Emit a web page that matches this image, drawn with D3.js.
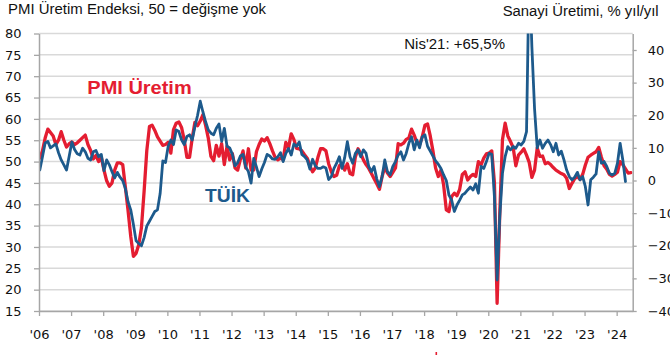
<!DOCTYPE html>
<html><head><meta charset="utf-8">
<script src="https://cdn.jsdelivr.net/npm/d3@7"></script>
<style>body{margin:0;background:#fff}svg{display:block}</style>
</head><body>
<svg id="chart" width="670" height="355"></svg>
<script>
// ---------- DATA (monthly, Jan 2006 onward) ----------
const startYear = 2006;
const pmiOutput = [
 50.8,52.5,55.5,57.6,56.8,56.0,54.0,55.0,57.0,55.0,53.4,54.2,
 54.6,54.0,54.4,55.0,55.6,56.2,54.0,52.6,50.6,51.4,50.0,51.0,
 48.0,45.5,44.2,45.0,48.0,49.7,49.7,49.3,44.0,38.5,32.5,27.8,
 28.5,30.5,34.5,43.0,52.5,58.2,58.5,57.3,55.8,54.8,53.8,54.0,
 54.5,52.0,57.5,59.0,59.3,58.0,55.1,51.0,51.0,55.5,59.2,58.4,
 59.5,61.0,58.5,55.5,51.2,50.2,53.8,51.3,54.2,49.3,53.6,50.4,
 51.9,48.5,48.0,50.5,52.5,48.5,53.0,48.0,48.0,52.3,54.0,55.3,
 54.8,55.6,54.2,52.5,51.0,50.4,50.8,50.5,54.5,53.2,56.5,55.2,
 53.1,53.0,52.5,51.6,50.8,49.0,47.6,48.5,51.0,53.0,53.0,52.5,
 49.5,47.6,46.5,46.8,49.0,49.5,48.0,49.5,47.2,46.9,51.1,53.0,
 51.9,50.4,49.3,48.4,47.2,46.0,44.8,43.5,46.5,48.7,47.3,46.5,
 47.5,48.5,54.2,53.9,54.3,55.2,55.5,57.6,56.2,54.4,53.9,55.8,
 58.5,58.8,56.0,52.5,48.5,46.5,48.0,44.5,38.7,38.3,41.8,42.6,
 42.0,43.5,47.0,47.6,45.7,46.5,47.0,46.5,50.0,49.2,50.8,51.8,
 52.0,52.5,45.0,16.8,37.9,55.1,59.0,56.0,54.7,53.3,49.0,51.5,
 52.2,53.0,51.5,49.8,46.3,48.0,53.2,51.2,51.3,49.5,49.8,49.3,
 48.6,48.0,47.6,47.2,46.9,46.1,43.7,44.9,46.0,46.5,45.8,47.0,
 49.2,51.0,51.5,51.9,52.3,53.3,51.0,49.0,48.2,47.0,46.6,47.0,
 47.5,50.0,49.3,48.3,47.3,47.4
];
const tuikIP = [
 3.2,7.3,11.5,12.0,10.0,10.6,11.2,8.5,6.3,4.8,3.2,7.5,
 11.8,9.5,8.2,7.8,9.9,8.8,6.8,6.3,8.8,9.2,7.3,8.0,
 3.0,6.3,4.8,2.7,0.8,2.5,1.0,0.0,-2.5,-6.5,-9.0,-13.5,
 -18.5,-19.3,-20.0,-17.5,-14.0,-12.5,-11.0,-9.5,-9.0,-4.0,6.0,5.5,
 10.5,12.4,11.0,15.5,15.0,12.5,11.0,13.5,14.0,12.4,16.5,20.0,
 24.3,21.0,18.0,15.5,14.5,14.0,16.0,17.3,12.0,16.0,10.5,10.0,
 8.0,4.5,5.5,7.5,8.0,4.2,2.7,-0.8,6.8,4.2,1.2,3.5,
 5.5,8.0,7.5,6.6,6.5,7.3,8.5,5.8,8.3,9.8,7.8,11.2,
 10.5,11.8,8.0,7.3,6.3,3.5,6.5,4.5,3.7,3.7,4.2,3.8,
 0.3,1.2,3.7,5.3,7.3,3.7,7.0,11.9,7.3,5.3,8.3,9.4,
 7.3,9.4,8.3,4.3,2.7,4.3,0.5,-1.9,1.2,6.3,2.7,1.7,
 4.3,5.8,7.8,8.8,6.3,8.3,11.4,13.4,9.4,12.4,10.0,13.4,
 14.0,10.5,9.0,7.5,6.0,5.0,3.7,1.7,0.0,-4.5,-6.0,-9.5,
 -7.5,-6.0,-4.4,-3.9,-2.9,-2.0,-2.9,-1.0,-3.9,4.3,3.7,5.8,
 8.3,8.0,-5.0,-30.5,-11.1,2.2,7.3,10.4,9.4,10.4,9.9,11.4,
 10.9,12.0,15.0,65.5,41.0,22.0,10.0,12.4,9.9,11.4,12.4,11.0,
 8.8,11.4,7.8,9.0,6.3,3.2,1.2,0.2,1.0,2.5,0.2,1.2,
 -1.9,-7.5,0.2,1.0,2.0,8.8,5.3,5.8,4.3,2.2,1.7,2.2,
 5.3,11.4,6.3,-0.3
];
const yearTicks = d3.range(2006, 2025);
const leftTicks = d3.range(15, 81, 5);
const rightTicks = d3.range(-40, 41, 10);
const leftTitle = "PMI Üretim Endeksi, 50 = değişme yok";
const rightTitle = "Sanayi Üretimi, % yıl/yıl";
const noteText = "Nis'21: +65,5%";
const pmiLabel = "PMI Üretim";
const tuikLabel = "TÜİK";

// ---------- LAYOUT ----------
const L = 39, R = 632.7, T = 33.5, B = 311;
const RED = "#e41d31", BLUE = "#1d5a8c", AXIS = "#a6a6a6", GRID = "#d9d9d9";
const svg = d3.select("#chart");

const x = d3.scaleLinear().domain([2006, 2024.5]).range([L, R]);
const yL = d3.scaleLinear().domain([15, 80]).range([B, T]);
const yR = d3.scaleLinear().domain([-40, 40 + (50 - T) / (261 / 80)]).range([B, T]);
const tOf = i => startYear + (i + 0.3) / 12;

// grid
svg.append("g").selectAll("line").data(leftTicks).join("line")
  .attr("x1", L).attr("x2", R).attr("y1", d => yL(d)).attr("y2", d => yL(d))
  .attr("stroke", GRID).attr("stroke-width", 1.5);

// clip
svg.append("clipPath").attr("id", "clip").append("rect")
  .attr("x", L).attr("y", T).attr("width", R - L).attr("height", B - T);

const lineL = d3.line().x((d, i) => x(tOf(i))).y(d => yL(d));
const lineR = d3.line().x((d, i) => x(tOf(i))).y(d => yR(d));

const plot = svg.append("g").attr("clip-path", "url(#clip)");
plot.append("path").datum(pmiOutput).attr("d", lineL)
  .attr("fill", "none").attr("stroke", RED).attr("stroke-width", 3.3)
  .attr("stroke-linejoin", "round").attr("stroke-linecap", "round");
plot.append("path").datum(tuikIP).attr("d", lineR)
  .attr("fill", "none").attr("stroke", BLUE).attr("stroke-width", 2.8)
  .attr("stroke-linejoin", "round").attr("stroke-linecap", "round");

// axes
const tickFont = g => g.selectAll("text").attr("font-family", "DejaVu Sans").attr("font-size", 13).attr("fill", "#111");
const styleAxis = g => {
  g.select(".domain").attr("stroke", AXIS).attr("stroke-width", 1.5);
  g.selectAll(".tick line").attr("stroke", AXIS).attr("stroke-width", 1.3);
  tickFont(g);
};
svg.append("g").attr("transform", `translate(${L},0)`)
  .call(d3.axisLeft(yL).tickValues(leftTicks).tickSize(5).tickPadding(12.5).tickSizeOuter(0))
  .call(styleAxis);
svg.append("g").attr("transform", `translate(${R},0)`)
  .call(d3.axisRight(yR).tickValues(rightTicks).tickSize(4).tickPadding(11).tickSizeOuter(0))
  .call(styleAxis);
svg.append("g").attr("transform", `translate(0,${B})`)
  .call(d3.axisBottom(x).tickValues(yearTicks).tickSize(5).tickPadding(14).tickSizeOuter(0)
    .tickFormat(d => "'" + String(d).slice(2)))
  .call(styleAxis);

// titles & labels
const txt = (s, xx, yy, size, len, opts = {}) => svg.append("text").text(s)
  .attr("x", xx).attr("y", yy).attr("font-family", "Liberation Sans, Arial, sans-serif")
  .attr("font-size", size).attr("fill", opts.fill || "#111")
  .attr("font-weight", opts.bold ? "bold" : "normal")
  .attr("textLength", len).attr("lengthAdjust", "spacingAndGlyphs");
txt(leftTitle, 8, 14, 14, 258);
txt(rightTitle, 502.7, 16, 14, 156);
txt(noteText, 404.3, 49.3, 14, 100.7);
txt(pmiLabel, 87.3, 94.3, 18, 104.4, {fill: RED, bold: true});
txt(tuikLabel, 205, 201.7, 18, 45, {fill: BLUE, bold: true});

// small stray red mark at the bottom of the original image
svg.append("rect").attr("x", 435.5).attr("y", 352).attr("width", 1.6).attr("height", 3).attr("fill", RED);
</script>
</body></html>
